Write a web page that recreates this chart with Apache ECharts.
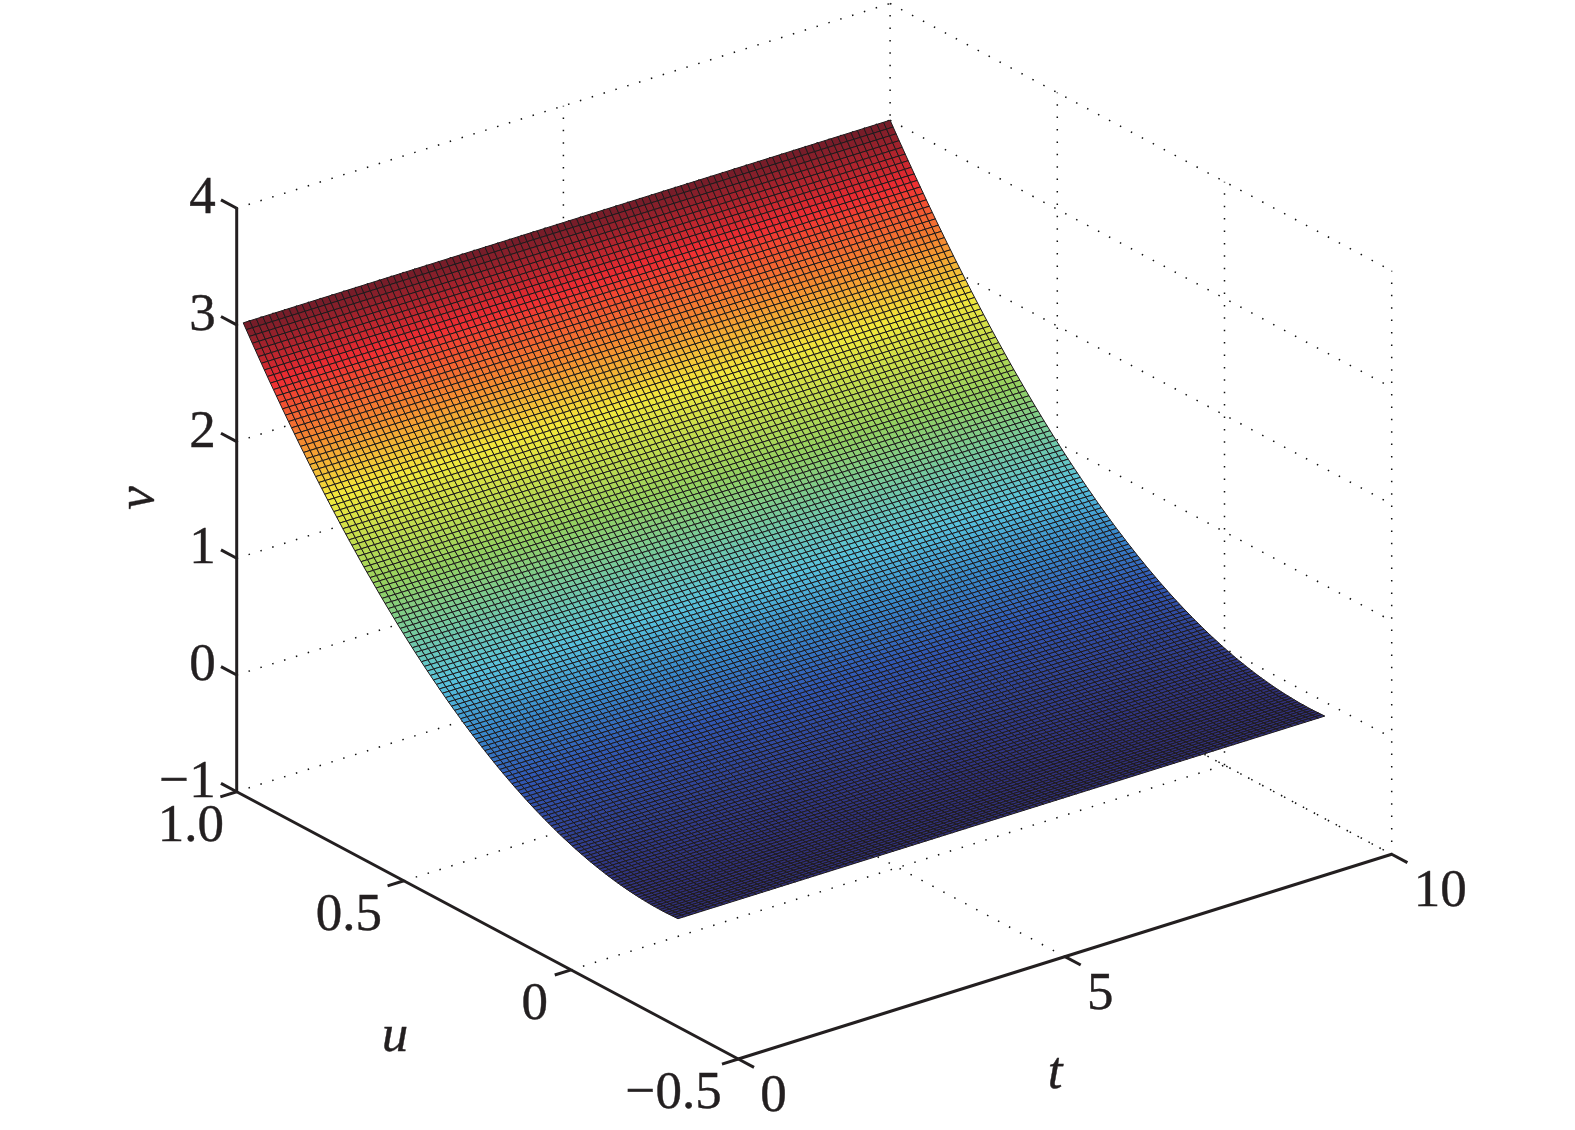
<!DOCTYPE html>
<html>
<head>
<meta charset="utf-8">
<style>html,body{margin:0;padding:0;background:#fff}#c{width:1575px;height:1130px}</style>
<script src="https://cdn.jsdelivr.net/npm/echarts@6/dist/echarts.min.js"></script>
</head>
<body>
<div id="c"></div>
<script>
// ---- data ----
const tTicks = [0, 5, 10];
const uTicks = [1.0, 0.5, 0, -0.5];
const vTicks = [4, 3, 2, 1, 0, -1];
const tTickLabels = ['0', '5', '10'];
const uTickLabels = ['1.0', '0.5', '0', '\u22120.5'];
const vTickLabels = ['4', '3', '2', '1', '0', '\u22121'];
const tRange = [0, 10], uRange = [-0.5, 1], vRange = [-1, 4];
const surfaceT = [0.1, 10];        // surface extent along t
const surfaceU = [1, -0.3];        // surface extent along u (row order)
const surfaceColumns = 99;         // mesh cells along t
// v along u, one value per mesh row (surface does not change with t)
const vProfile = [
3.000,2.955,2.911,2.866,2.823,2.779,2.736,2.693,2.650,2.608,
2.566,2.525,2.483,2.442,2.402,2.361,2.321,2.282,2.242,2.203,
2.165,2.126,2.088,2.051,2.013,1.976,1.940,1.903,1.867,1.831,
1.796,1.761,1.726,1.691,1.657,1.623,1.590,1.557,1.524,1.491,
1.459,1.427,1.396,1.365,1.334,1.303,1.273,1.243,1.213,1.184,
1.155,1.126,1.098,1.070,1.042,1.015,0.988,0.961,0.935,0.909,
0.883,0.858,0.833,0.808,0.784,0.759,0.736,0.712,0.689,0.666,
0.644,0.622,0.600,0.578,0.557,0.536,0.516,0.496,0.476,0.456,
0.437,0.418,0.399,0.381,0.363,0.345,0.328,0.311,0.295,0.278,
0.262,0.247,0.231,0.216,0.201,0.187,0.173,0.159,0.146,0.133,
0.120,0.108,0.096,0.084,0.072,0.061,0.050,0.040,0.030,0.020,
0.010,0.001,-0.008,-0.016,-0.025,-0.033,-0.040,-0.047,-0.054,-0.061,
-0.067,-0.073,-0.079,-0.084,-0.089,-0.094,-0.098,-0.102,-0.106,-0.109,
-0.112,-0.115,-0.117,-0.119,-0.121,-0.123,-0.124,-0.124,-0.125,-0.125,
-0.125,-0.124,-0.123,-0.122,-0.121];
const colorStops = ['#30307a','#3058b4','#3a8ccc','#58c2dc','#94d060','#f2e83c','#f48c30','#ee2c32','#701c28'];
const colorStopAt = [0, 0.13, 0.21, 0.29, 0.47, 0.64, 0.75, 0.875, 1];

// ---- orthographic view of the box: screen position of (t,u,v) ----
const viewOrigin = [738.3, 1059];     // t=0, u=-0.5, v=-1
const viewT = [65.34, -20.47];
const viewU = [-334.4, -178.2];
const viewV = [0, -116.7];
function view(t, u, v) {
  const du = u - uRange[0], dv = v - vRange[0];
  return [viewOrigin[0] + t * viewT[0] + du * viewU[0] + dv * viewV[0],
          viewOrigin[1] + t * viewT[1] + du * viewU[1] + dv * viewV[1]];
}

const INK = '#231f20';
const FONT = '"Liberation Serif","Times New Roman",serif';
const [t0, t1] = tRange, [u0, u1] = uRange, [v0, v1] = vRange;

// dotted box grid on the floor and two back walls
const gridLines = [];
vTicks.forEach(v => {
  if (v !== v0) gridLines.push([[t0, u1, v], [t1, u1, v]], [[t1, u1, v], [t1, u0, v]]);
});
gridLines.push([[t0, u1, v0], [t1, u1, v0]]);
gridLines.push([[t1, u1, v0], [t1, u0, v0]]);
[5, 10].forEach(t => {
  gridLines.push([[t, u0, v0], [t, u1, v0]], [[t, u1, v0], [t, u1, v1]]);
});
[0.5, 0].forEach(u => {
  gridLines.push([[t0, u, v0], [t1, u, v0]], [[t1, u, v0], [t1, u, v1]]);
});
gridLines.push([[t1, u0, v0], [t1, u0, v1]]);

// solid axes and ticks
const TICK_U = 0.047, TICK_T = 0.25;
const axisLines = [
  [[t0, u1, v0], [t0, u1, v1]],
  [[t0, u0, v0], [t0, u1, v0]],
  [[t0, u0, v0], [t1, u0, v0]]
];
vTicks.forEach(v => axisLines.push([[t0, u1, v], [t0, u1 + TICK_U, v]]));
uTicks.forEach(u => axisLines.push([[t0, u, v0], [t0 - TICK_T, u, v0]]));
tTicks.forEach(t => axisLines.push([[t, u0, v0], [t, u0 - TICK_U, v0]]));

// mesh cells
const cells = [];
for (let r = 0; r < vProfile.length - 1; r++)
  for (let c = 0; c < surfaceColumns; c++) cells.push([c, r]);
const rowU = r => surfaceU[0] + (surfaceU[1] - surfaceU[0]) * r / (vProfile.length - 1);
const colT = c => surfaceT[0] + (surfaceT[1] - surfaceT[0]) * c / surfaceColumns;
const vMin = Math.min(...vProfile), vMax = Math.max(...vProfile);
function cellColor(v) {
  const f = (v - vMin) / (vMax - vMin);
  let i = 0;
  while (i < colorStopAt.length - 2 && f > colorStopAt[i + 1]) i++;
  const k = Math.max(0, Math.min(1, (f - colorStopAt[i]) / (colorStopAt[i + 1] - colorStopAt[i])));
  return echarts.color.lerp(k, [colorStops[i], colorStops[i + 1]]);
}

// text items
const texts = [];
vTicks.forEach((v, i) => {
  const p = view(t0, u1, v);
  texts.push({ p: [p[0] - 21, p[1] - 9], s: vTickLabels[i], a: 'right' });
});
const uNudge = [-12.7, -22, -23, -16.6];
uTicks.forEach((u, i) => {
  const p = view(t0, u, v0);
  texts.push({ p: [p[0] + uNudge[i], p[1] + 35], s: uTickLabels[i], a: 'right' });
});
tTicks.forEach((t, i) => {
  const p = view(t, u0, v0);
  texts.push({ p: [p[0] + 22, p[1] + 38], s: tTickLabels[i], a: 'left' });
});
texts.push({ p: [395, 1037], s: 'u', a: 'center', it: true });
texts.push({ p: [1055, 1074], s: 't', a: 'center', it: true });
texts.push({ p: [139, 498], s: 'v', a: 'center', it: true, rot: Math.PI / 2 });

function lineSeries(lines, style, z) {
  return {
    type: 'custom', coordinateSystem: 'cartesian2d', silent: true, animation: false, clip: false, z,
    data: lines.map((_, i) => [i, 0]),
    renderItem(params, api) {
      const l = lines[params.dataIndex];
      const a = api.coord(view(...l[0])), b = api.coord(view(...l[1]));
      return { type: 'line', shape: { x1: a[0], y1: a[1], x2: b[0], y2: b[1] }, style };
    }
  };
}

const chart = echarts.init(document.getElementById('c'), null, { renderer: 'canvas' });
chart.setOption({
  animation: false,
  backgroundColor: '#ffffff',
  grid: { left: 0, right: 0, top: 0, bottom: 0 },
  xAxis: { type: 'value', min: 0, max: 1575, show: false },
  yAxis: { type: 'value', min: 0, max: 1130, inverse: true, show: false },
  series: [
    lineSeries(gridLines, { stroke: '#111111', lineWidth: 1.5, lineDash: [1.5, 10.9], fill: null }, 1),
    {
      type: 'custom', coordinateSystem: 'cartesian2d', silent: true, animation: false, clip: false, z: 2,
      progressive: 0,
      data: cells,
      renderItem(params, api) {
        const c = cells[params.dataIndex][0], r = cells[params.dataIndex][1];
        const ta = colT(c), tb = colT(c + 1), ua = rowU(r), ub = rowU(r + 1);
        const va = vProfile[r], vb = vProfile[r + 1];
        const pts = [view(ta, ua, va), view(tb, ua, va), view(tb, ub, vb), view(ta, ub, vb)].map(p => api.coord(p));
        return { type: 'polygon', shape: { points: pts },
          style: { fill: cellColor((va + vb) / 2), stroke: '#1e1a1c', lineWidth: 1 } };
      }
    },
    lineSeries(axisLines, { stroke: INK, lineWidth: 3, fill: null }, 3),
    {
      type: 'custom', coordinateSystem: 'cartesian2d', silent: true, animation: false, clip: false, z: 4,
      data: texts.map((_, i) => [i, 0]),
      renderItem(params, api) {
        const d = texts[params.dataIndex];
        const p = api.coord(d.p);
        return { type: 'text', x: p[0], y: p[1], rotation: d.rot || 0,
          style: { x: 0, y: 0, text: d.s, fill: INK, stroke: INK, lineWidth: 0.4, align: d.a, verticalAlign: 'middle',
            font: (d.it ? 'italic ' : '') + '53px ' + FONT } };
      }
    }
  ]
});
</script>
</body>
</html>
